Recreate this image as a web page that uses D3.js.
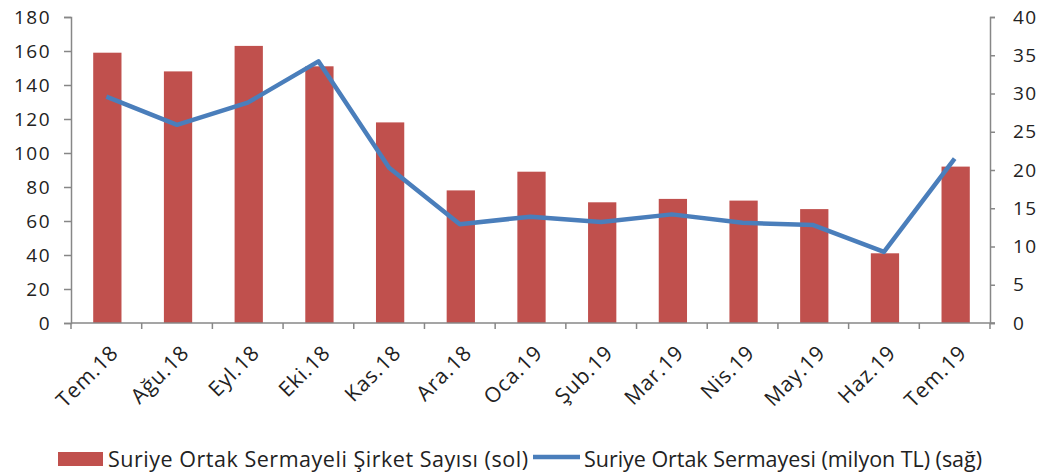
<!DOCTYPE html>
<html>
<head>
<meta charset="utf-8">
<script src="https://cdn.jsdelivr.net/npm/d3@7"></script>
<style>
  body { margin: 0; background: #fff; }
  svg text { font-family: "Open Sans", sans-serif; fill: #222; }
</style>
</head>
<body>
<svg id="chart" width="1043" height="476"></svg>
<script>
// months on the x axis
const months = ["Tem.18", "Ağu.18", "Eyl.18", "Eki.18", "Kas.18", "Ara.18", "Oca.19",
    "Şub.19", "Mar.19", "Nis.19", "May.19", "Haz.19", "Tem.19"];
// number of companies (left axis)
const companyCount = [159, 148, 163, 151, 118, 78, 89, 71, 73, 72, 67, 41, 92];
// capital, million TL (right axis)
const capital = [29.6, 25.9, 28.8, 34.2, 20.3, 12.9, 13.9, 13.2, 14.2, 13.1, 12.8, 9.3, 21.5];
const leftTicks = [0, 20, 40, 60, 80, 100, 120, 140, 160, 180];
const rightTicks = [0, 5, 10, 15, 20, 25, 30, 35, 40];
const legendLabels = ["Suriye Ortak Sermayeli Şirket Sayısı (sol)", "Suriye Ortak Sermayesi (milyon TL) (sağ)"];

const margin = {top: 17, left: 71, right: 53, bottom: 153};
const width = 1043 - margin.left - margin.right;
const height = 476 - margin.top - margin.bottom;

const svg = d3.select("#chart");
const g = svg.append("g").attr("transform", "translate(" + margin.left + "," + margin.top + ")");

const x = d3.scaleBand().domain(months).range([0, width]);
const yLeft = d3.scaleLinear().domain([0, 180]).range([height, 0]);
const yRight = d3.scaleLinear().domain([0, 40]).range([height, 0]);

const axisColor = "#878787";
const barColor = "#c0504d";
const lineColor = "#4a7ebb";

// bars
const barW = x.bandwidth() * 0.4;
g.selectAll("rect.bar")
    .data(companyCount)
    .enter().append("rect")
    .attr("class", "bar")
    .attr("x", (d, i) => x(months[i]) + x.bandwidth() / 2 - barW / 2 + 1)
    .attr("y", d => yLeft(d))
    .attr("width", barW)
    .attr("height", d => height - yLeft(d))
    .attr("fill", barColor);

// left axis
const leftAxis = g.append("g")
    .call(d3.axisLeft(yLeft).tickValues(leftTicks).tickSize(7).tickPadding(13));
// right axis
const rightAxis = g.append("g")
    .attr("transform", "translate(" + width + ",0)")
    .call(d3.axisRight(yRight).tickValues(rightTicks).tickSize(5).tickPadding(18));

[leftAxis, rightAxis].forEach(a => {
    a.select(".domain").attr("stroke", axisColor).attr("stroke-width", 1.5);
    a.selectAll(".tick line").attr("stroke", axisColor).attr("stroke-width", 1.5);
    a.selectAll(".tick text")
        .style("font-size", "19px")
        .style("letter-spacing", "1.5px")
        .attr("fill", "#222");
});

// bottom axis line and ticks on band edges
const bottom = g.append("g").attr("transform", "translate(0," + height + ")");
bottom.append("line")
    .attr("x1", 0).attr("x2", width + 5)
    .attr("stroke", axisColor).attr("stroke-width", 1.5);
bottom.selectAll("line.edge")
    .data(months.concat(["end"]))
    .enter().append("line")
    .attr("class", "edge")
    .attr("x1", (d, i) => i * x.step())
    .attr("x2", (d, i) => i * x.step())
    .attr("y1", 0).attr("y2", 6)
    .attr("stroke", axisColor).attr("stroke-width", 1.5);
bottom.selectAll("text.month")
    .data(months)
    .enter().append("text")
    .attr("class", "month")
    .attr("transform", d => "translate(" + (x(d) + x.bandwidth() / 2 + 8) + ",26) rotate(-45)")
    .attr("text-anchor", "end")
    .attr("dy", "0.35em")
    .style("font-size", "21px")
    .style("letter-spacing", "0.8px")
    .text(d => d);

// line series
const line = d3.line()
    .x((d, i) => x(months[i]) + x.bandwidth() / 2)
    .y(d => yRight(d));
g.append("path")
    .datum(capital)
    .attr("d", line)
    .attr("fill", "none")
    .attr("stroke", lineColor)
    .attr("stroke-width", 4.5)
    .attr("stroke-linejoin", "round");

// legend
const legend = svg.append("g");
legend.append("rect")
    .attr("x", 58).attr("y", 452).attr("width", 45).attr("height", 14)
    .attr("fill", barColor);
legend.append("text")
    .attr("x", 108).attr("y", 467)
    .attr("textLength", 420)
    .style("font-size", "21.5px")
    .text(legendLabels[0]);
legend.append("line")
    .attr("x1", 533).attr("x2", 580).attr("y1", 457).attr("y2", 457)
    .attr("stroke", lineColor).attr("stroke-width", 4.5);
legend.append("text")
    .attr("x", 584).attr("y", 467)
    .attr("textLength", 398)
    .style("font-size", "21.5px")
    .text(legendLabels[1]);
</script>
</body>
</html>
